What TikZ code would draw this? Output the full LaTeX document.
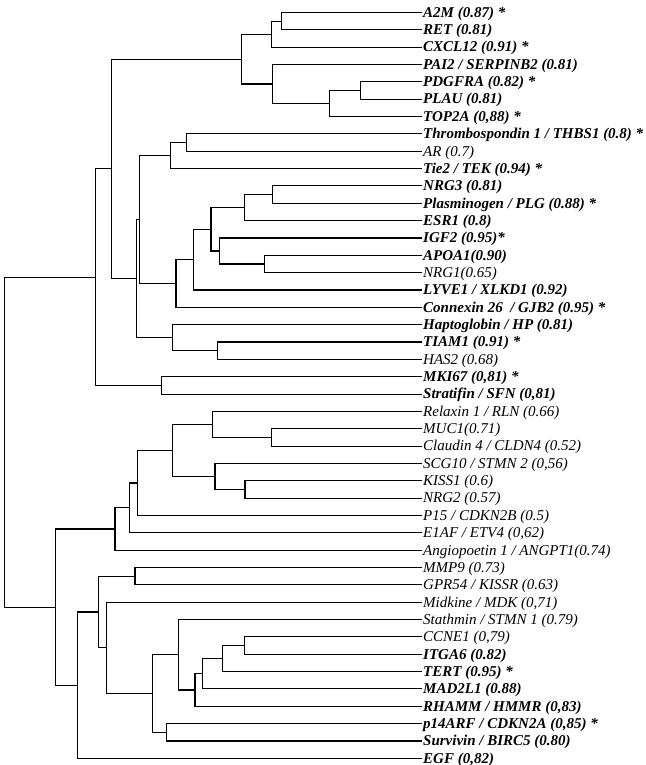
\documentclass[tikz,border=0pt]{standalone}
\usepackage{fontspec}
\setmainfont{Liberation Serif}
\usetikzlibrary{calc}
% 一个分支点: 名称, x, 子节点 a, 子节点 b
\newcommand{\clade}[4]{%
  \coordinate (#1-m) at ($(#3)!.5!(#4)$);
  \coordinate (#1) at (#2,0 |- #1-m);
  \draw[branch] (#3) -| (#1) |- (#4);
}
\tikzset{
  gene/.style={anchor=west, inner sep=1pt, text height=9.6pt, text depth=0pt,
    font=\fontsize{15}{18}\selectfont\itshape},
  genebf/.style={gene, font=\fontsize{15}{18}\selectfont\bfseries\itshape},
  branch/.style={black, line width=1.1pt}
}
\begin{document}
\begin{tikzpicture}[x=1pt, y=-1pt]
    \useasboundingbox (0,0) rectangle (645,765);

    % 叶节点 (基因名称), 粗体为显著
    \node[genebf] (a2m)    at (422,12.5)  {A2M (0.87) *};
    \node[genebf] (ret)    at (422,29.8)  {RET (0.81)};
    \node[genebf] (cxcl12) at (422,47.2)  {CXCL12 (0.91) *};
    \node[genebf] (pai2)   at (422,64.5)  {PAI2 / SERPINB2 (0.81)};
    \node[genebf] (pdgfra) at (422,81.9)  {PDGFRA (0.82) *};
    \node[genebf] (plau)   at (422,99.2)  {PLAU (0.81)};
    \node[genebf] (top2a)  at (422,116.6) {TOP2A (0,88) *};
    \node[genebf] (thbs1)  at (422,133.9) {Thrombospondin 1 / THBS1 (0.8) *};
    \node[gene]   (ar)     at (422,151.3) {AR (0.7)};
    \node[genebf] (tek)    at (422,168.6) {Tie2 / TEK (0.94) *};
    \node[genebf] (nrg3)   at (422,185.9) {NRG3 (0.81)};
    \node[genebf] (plg)    at (422,203.3) {Plasminogen / PLG (0.88) *};
    \node[genebf] (esr1)   at (422,220.6) {ESR1 (0.8)};
    \node[genebf] (igf2)   at (422,238.0) {IGF2 (0.95)*};
    \node[genebf] (apoa1)  at (422,255.3) {APOA1(0.90)};
    \node[gene]   (nrg1)   at (422,272.7) {NRG1(0.65)};
    \node[genebf] (lyve1)  at (422,290.0) {LYVE1 / XLKD1 (0.92)};
    \node[genebf] (gjb2)   at (422,307.4) {Connexin 26~ / GJB2 (0.95) *};
    \node[genebf] (hp)     at (422,324.7) {Haptoglobin / HP (0.81)};
    \node[genebf] (tiam1)  at (422,342.0) {TIAM1 (0.91) *};
    \node[gene]   (has2)   at (422,359.4) {HAS2 (0.68)};
    \node[genebf] (mki67)  at (422,376.7) {MKI67 (0,81) *};
    \node[genebf] (sfn)    at (422,394.1) {Stratifin / SFN (0,81)};
    \node[gene]   (rln)    at (422,411.4) {Relaxin 1 / RLN (0.66)};
    \node[gene]   (muc1)   at (422,428.8) {MUC1(0.71)};
    \node[gene]   (cldn4)  at (422,446.1) {Claudin 4 / CLDN4 (0.52)};
    \node[gene]   (stmn2)  at (422,463.4) {SCG10 / STMN 2 (0,56)};
    \node[gene]   (kiss1)  at (422,480.8) {KISS1 (0.6)};
    \node[gene]   (nrg2)   at (422,498.1) {NRG2 (0.57)};
    \node[gene]   (p15)    at (422,515.5) {P15 / CDKN2B (0.5)};
    \node[gene]   (etv4)   at (422,532.8) {E1AF / ETV4 (0,62)};
    \node[gene]   (angpt1) at (422,550.2) {Angiopoetin 1 / ANGPT1(0.74)};
    \node[gene]   (mmp9)   at (422,567.5) {MMP9 (0.73)};
    \node[gene]   (kissr)  at (422,584.9) {GPR54 / KISSR (0.63)};
    \node[gene]   (mdk)    at (422,602.2) {Midkine / MDK (0,71)};
    \node[gene]   (stmn1)  at (422,619.5) {Stathmin / STMN 1 (0.79)};
    \node[gene]   (ccne1)  at (422,636.9) {CCNE1 (0,79)};
    \node[genebf] (itga6)  at (422,654.2) {ITGA6 (0.82)};
    \node[genebf] (tert)   at (422,671.6) {TERT (0.95) *};
    \node[genebf] (mad2l1) at (422,688.9) {MAD2L1 (0.88)};
    \node[genebf] (hmmr)   at (422,706.3) {RHAMM / HMMR (0,83)};
    \node[genebf] (cdkn2a) at (422,723.6) {p14ARF / CDKN2A (0,85) *};
    \node[genebf] (birc5)  at (422,741.0) {Survivin / BIRC5 (0.80)};
    \node[genebf] (egf)    at (422,758.3) {EGF (0,82)};

    % 上半部分的分支
    \clade{c1}{281.8}{a2m}{ret}
    \clade{c2}{271.4}{c1}{cxcl12}
    \clade{c3}{360.3}{pdgfra}{plau}
    \clade{c4}{329.3}{c3}{top2a}
    \clade{c5}{272.3}{pai2}{c4}
    \clade{c6}{241.7}{c2}{c5}
    \clade{c7}{186.7}{thbs1}{ar}
    \clade{c8}{170.7}{c7}{tek}
    \clade{c9}{272.3}{nrg3}{plg}
    \clade{c10}{244.3}{c9}{esr1}
    \clade{c11}{264.3}{apoa1}{nrg1}
    \clade{c12}{219.3}{igf2}{c11}
    \clade{c13}{211.0}{c10}{c12}
    \clade{c14}{193.3}{c13}{lyve1}
    \clade{c15}{176.0}{c14}{gjb2}
    \clade{c16}{139.3}{c8}{c15}
    \clade{c17}{217.3}{tiam1}{has2}
    \clade{c18}{172.7}{hp}{c17}
    \clade{c19}{136.7}{c16}{c18}
    \clade{c20}{111.7}{c6}{c19}
    \clade{c21}{161.7}{mki67}{sfn}
    \clade{c22}{95.7}{c20}{c21}

    % 下半部分的分支
    \clade{c23}{271.4}{muc1}{cldn4}
    \clade{c24}{212.3}{rln}{c23}
    \clade{c25}{245.0}{kiss1}{nrg2}
    \clade{c26}{215.0}{stmn2}{c25}
    \clade{c27}{172.3}{c24}{c26}
    \clade{c28}{137.7}{c27}{p15}
    \clade{c29}{129.3}{c28}{etv4}
    \clade{c30}{115.0}{c29}{angpt1}
    \clade{c31}{135.0}{mmp9}{kissr}
    \clade{c32}{244.3}{ccne1}{itga6}
    \clade{c33}{222.3}{c32}{tert}
    \clade{c34}{202.7}{c33}{mad2l1}
    \clade{c35}{195.0}{c34}{hmmr}
    \clade{c36}{178.3}{stmn1}{c35}
    \clade{c37}{166.7}{cdkn2a}{birc5}
    \clade{c38}{152.3}{c36}{c37}
    \clade{c39}{106.7}{mdk}{c38}
    \clade{c40}{98.3}{c31}{c39}
    \clade{c41}{77.7}{c40}{egf}
    \clade{c42}{55.5}{c30}{c41}

    % 根
    \clade{root}{4.7}{c22}{c42}
\end{tikzpicture}
\end{document}
